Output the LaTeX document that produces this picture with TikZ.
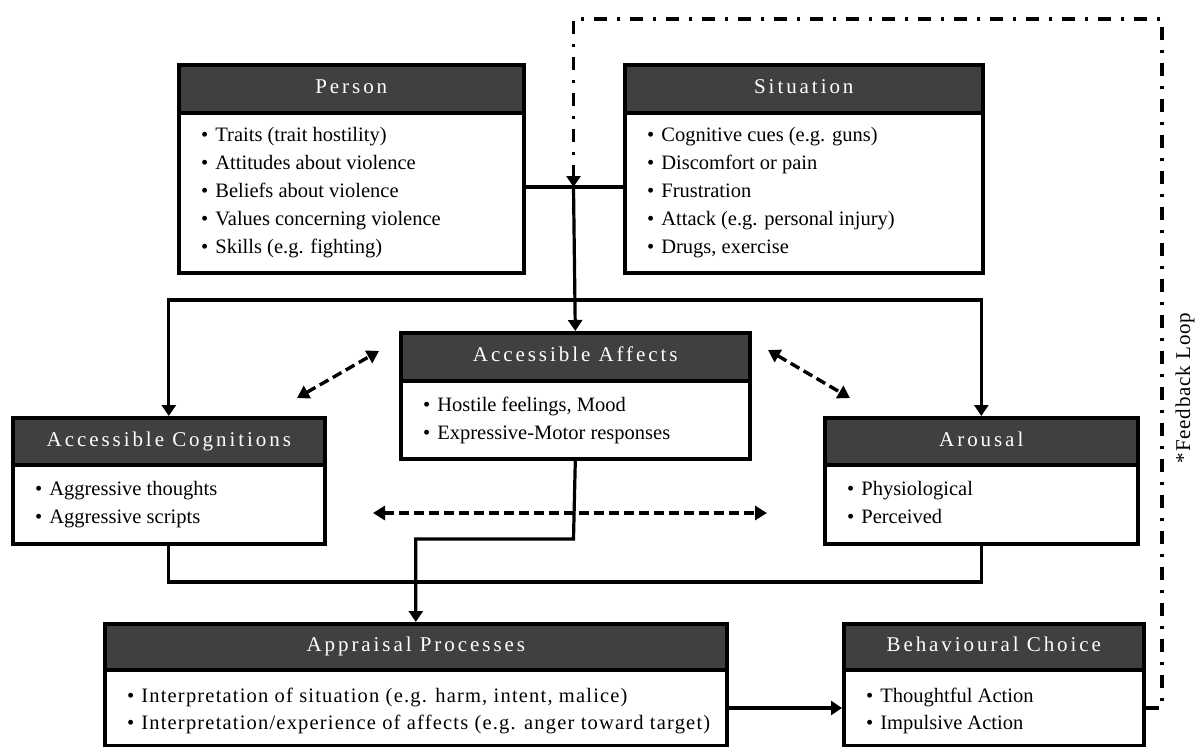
\documentclass[tikz,border=0pt]{standalone}
\usepackage{fontspec}
\setmainfont{Liberation Serif}
\newfontfamily\headfont[LetterSpace=14]{Liberation Serif}
\newfontfamily\fbfont[LetterSpace=4]{Liberation Serif}
\newfontfamily\wideitemfont[LetterSpace=5.8]{Liberation Serif}
\usetikzlibrary{arrows.meta}
\definecolor{headgray}{HTML}{404040}
\tikzset{
  boxbody/.style={draw, line width=3.6pt, fill=white, inner sep=0pt, anchor=north west},
  boxhead/.style={draw, line width=3.6pt, fill=headgray, text=white, inner sep=0pt, anchor=north west,
    font=\headfont\fontsize{21}{24}\selectfont, text height=14pt, text depth=4pt},
  item/.style={anchor=base west, inner sep=0pt, font=\fontsize{20.5}{28}\selectfont},
  wideitem/.style={anchor=base west, inner sep=0pt, font=\wideitemfont\fontsize{20.5}{28}\selectfont},
  conn/.style={line width=3.2pt},
  arr/.style={line width=3.2pt, -{Triangle[width=14pt,length=11pt]}},
  darr/.style={line width=3.4pt, dash pattern=on 10pt off 5pt,
    {Triangle[width=14pt,length=12pt]}-{Triangle[width=14pt,length=12pt]}},
  fb/.style={line width=3.4pt, dash pattern=on 13pt off 10pt on 3pt off 10pt},
}
\newcommand\bul{\textbullet\hspace{7pt}}
\begin{document}
\begin{tikzpicture}[x=1pt,y=-1pt]
\useasboundingbox (0,0) rectangle (1203,747);

% Person
\node[boxbody, minimum width=345pt, minimum height=208pt] (person) at (177,63) {};
\node[boxhead, minimum width=345pt, minimum height=48pt] (personh) at (177,63) {Person};
\node[item] (p1) at (201,141) {\bul Traits (trait hostility)};
\node[item] (p2) at (201,169) {\bul Attitudes about violence};
\node[item] (p3) at (201,197) {\bul Beliefs about violence};
\node[item] (p4) at (201,225) {\bul Values concerning violence};
\node[item] (p5) at (201,253) {\bul Skills (e.g. fighting)};

% Situation
\node[boxbody, minimum width=358pt, minimum height=208pt] (situation) at (623,63) {};
\node[boxhead, minimum width=358pt, minimum height=48pt] (situationh) at (623,63) {Situation};
\node[item] (s1) at (647,141) {\bul Cognitive cues (e.g. guns)};
\node[item] (s2) at (647,169) {\bul Discomfort or pain};
\node[item] (s3) at (647,197) {\bul Frustration};
\node[item] (s4) at (647,225) {\bul Attack (e.g. personal injury)};
\node[item] (s5) at (647,253) {\bul Drugs, exercise};

% Accessible Affects
\node[boxbody, minimum width=349pt, minimum height=126pt] (affects) at (399,331) {};
\node[boxhead, minimum width=349pt, minimum height=48pt] (affectsh) at (399,331) {Accessible Affects};
\node[item] (a1) at (423,411) {\bul Hostile feelings, Mood};
\node[item] (a2) at (423,439) {\bul Expressive-Motor responses};

% Accessible Cognitions
\node[boxbody, minimum width=312pt, minimum height=126pt] (cog) at (11,416) {};
\node[boxhead, minimum width=312pt, minimum height=47pt] (cogh) at (11,416) {Accessible Cognitions};
\node[item] (c1) at (35,495) {\bul Aggressive thoughts};
\node[item] (c2) at (35,523) {\bul Aggressive scripts};

% Arousal
\node[boxbody, minimum width=313pt, minimum height=126pt] (aro) at (823,416) {};
\node[boxhead, minimum width=313pt, minimum height=47pt] (aroh) at (823,416) {Arousal};
\node[item] (r1) at (847,495) {\bul Physiological};
\node[item] (r2) at (847,523) {\bul Perceived};

% Appraisal Processes
\node[boxbody, minimum width=622pt, minimum height=122pt] (app) at (103,622) {};
\node[boxhead, minimum width=622pt, minimum height=46pt] (apph) at (103,622) {Appraisal Processes};
\node[wideitem] (ap1) at (127,702) {\bul Interpretation of situation (e.g. harm, intent, malice)};
\node[wideitem] (ap2) at (127,729) {\bul Interpretation/experience of affects (e.g. anger toward target)};

% Behavioural Choice
\node[boxbody, minimum width=300pt, minimum height=122pt] (beh) at (842,622) {};
\node[boxhead, minimum width=300pt, minimum height=46pt] (behh) at (842,622) {Behavioural Choice};
\node[item] (b1) at (866,702) {\bul Thoughtful Action};
\node[item] (b2) at (866,729) {\bul Impulsive Action};

% Feedback label
\node[rotate=90, inner sep=0pt, font=\fbfont\fontsize{21}{24}\selectfont] (fbl) at (1185,388) {*Feedback Loop};

% junction coordinates
\coordinate (j1) at (573.5,187);
\coordinate (j2) at (573.5,300);
\coordinate (j3) at (573.5,582);
\coordinate (j4) at (573.5,539);
\coordinate (jy) at (780,708);
\coordinate (fb1) at (1162,708);
\coordinate (fb2) at (1162,19);
\coordinate (fb3) at (573.5,19);

% connectors
\draw[conn] (person.east |- j1) -- (situation.west |- j1);
\draw[arr] (j1) -- (affects.north);
\draw[arr] (j2) -| (cog.north);
\draw[arr] (j2) -| (aro.north);
\draw[arr] (affects.south) -- (j4) -| (app.north);
\draw[conn] (cog.south) |- (j3) -| (aro.south);
\draw[arr] (app.east |- jy) -- (beh.west |- jy);

% feedback loop
\draw[fb, -{Triangle[width=14pt,length=11pt]}] (beh.east |- fb1) -- (fb1) -- (fb2) -- (fb3) -- (j1);

% dashed double arrows
\coordinate (d1a) at (297,398);
\coordinate (d1b) at (379,351);
\coordinate (d2a) at (768,350);
\coordinate (d2b) at (850,398);
\coordinate (d3a) at (373,513);
\coordinate (d3b) at (767,513);
\draw[darr] (d1a) -- (d1b);
\draw[darr] (d2a) -- (d2b);
\draw[darr] (d3a) -- (d3b);
\end{tikzpicture}
\end{document}
